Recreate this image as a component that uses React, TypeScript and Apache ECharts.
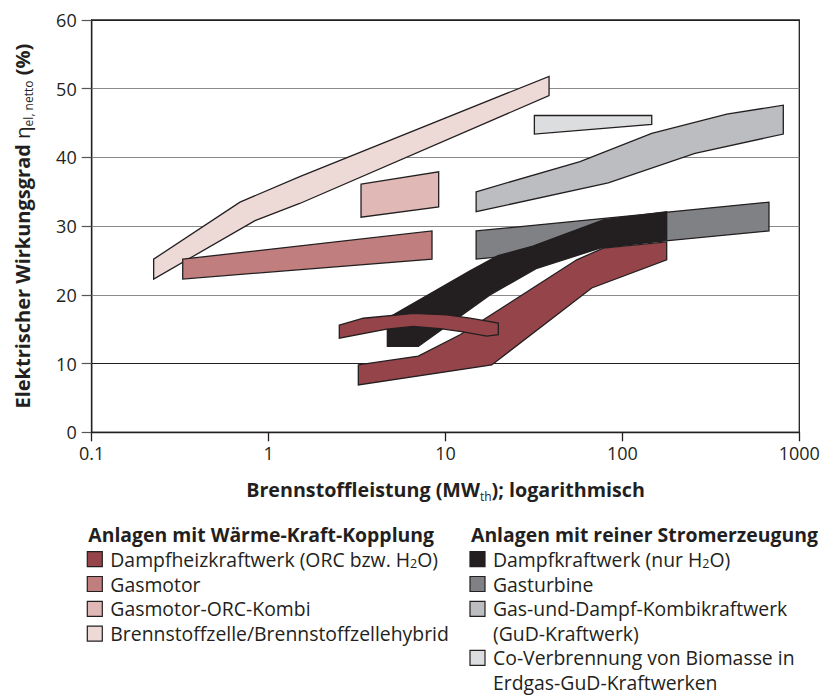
import React, { useEffect, useRef } from "react";
import * as echarts from "echarts";

// ---- tick labels ----
const xTickLabels = ["0.1", "1", "10", "100", "1000"];
const yTickValues = [0, 10, 20, 30, 40, 50, 60];

// ---- polygon outlines [Brennstoffleistung MW, Wirkungsgrad %] ----
const brennstoffzelle: [number, number][] = [
  [0.224, 25.2], [0.689, 33.5], [1.5, 37.2], [38.5, 51.8], [38.5, 49.0], [1.5, 33.3], [0.838, 30.8], [0.224, 22.3],
];
const gasmotor: [number, number][] = [
  [0.327, 25.2], [8.39, 29.3], [8.39, 25.2], [0.327, 22.3],
];
const gasmotorOrcKombi: [number, number][] = [
  [3.33, 36.1], [9.15, 37.9], [9.15, 32.8], [3.33, 31.3],
];
const coVerbrennung: [number, number][] = [
  [31.8, 46.1], [146.5, 46.1], [146.5, 44.8], [31.8, 43.4],
];
const gud: [number, number][] = [
  [14.9, 35.0], [57.6, 39.4], [146.5, 43.5], [389, 46.3], [812, 47.6],
  [812, 43.4], [257, 40.6], [83.2, 36.3], [14.9, 32.1],
];
const gasturbine: [number, number][] = [
  [14.9, 29.3], [674, 33.5], [674, 29.3], [14.9, 25.2],
];
const dampfkraftwerk: [number, number][] = [
  [4.69, 16.6], [13.76, 23.5], [19.8, 25.7], [31.2, 27.1], [78.0, 30.9], [178, 32.1],
  [178, 28.0], [74.7, 26.8], [32.5, 23.8], [17.85, 20.0], [7.02, 12.5], [4.69, 12.5],
];
const dampfheizBand: [number, number][] = [
  [3.215, 9.8], [7.02, 11.1], [12.08, 14.2], [55.2, 25.1], [78.0, 26.8], [178, 27.7],
  [178, 25.1], [67.1, 21.0], [18.25, 9.8], [3.215, 6.9],
];
const dampfheizBogen: [number, number][] = [
  [2.51, 15.6], [3.43, 16.6], [6.58, 17.3], [10.16, 17.1], [13.76, 16.6], [19.89, 15.9],
  [19.89, 14.2], [17.1, 14.0], [12.6, 14.6], [9.31, 15.1], [6.58, 15.4], [4.65, 15.0], [2.51, 13.7],
];

// ---- series (drawing order) ----
const seriesNames = [
  "Brennstoffzelle/Brennstoffzellehybrid",
  "Gasmotor",
  "Gasmotor-ORC-Kombi",
  "Co-Verbrennung von Biomasse in Erdgas-GuD-Kraftwerken",
  "Gas-und-Dampf-Kombikraftwerk (GuD-Kraftwerk)",
  "Gasturbine",
  "Dampfkraftwerk (nur H2O)",
  "Dampfheizkraftwerk (ORC bzw. H2O)",
];
const seriesColors = ["#edd9d6", "#c17e7e", "#e0b9b6", "#dcdddf", "#bcbdc0", "#808184", "#231f20", "#95454a"];
const seriesPolygons: [number, number][][][] = [
  [brennstoffzelle],
  [gasmotor],
  [gasmotorOrcKombi],
  [coVerbrennung],
  [gud],
  [gasturbine],
  [dampfkraftwerk],
  [dampfheizBand, dampfheizBogen],
];

// ---- legend ----
const legendLeftTitle = "Anlagen mit Wärme-Kraft-Kopplung";
const legendLeftItems: { lines: string[]; color: string }[] = [
  { lines: ["Dampfheizkraftwerk (ORC bzw. H{sub|2}O)"], color: "#95454a" },
  { lines: ["Gasmotor"], color: "#c17e7e" },
  { lines: ["Gasmotor-ORC-Kombi"], color: "#e0b9b6" },
  { lines: ["Brennstoffzelle/Brennstoffzellehybrid"], color: "#edd9d6" },
];
const legendRightTitle = "Anlagen mit reiner Stromerzeugung";
const legendRightItems: { lines: string[]; color: string }[] = [
  { lines: ["Dampfkraftwerk (nur H{sub|2}O)"], color: "#231f20" },
  { lines: ["Gasturbine"], color: "#808184" },
  { lines: ["Gas-und-Dampf-Kombikraftwerk", "(GuD-Kraftwerk)"], color: "#bcbdc0" },
  { lines: ["Co-Verbrennung von Biomasse in", "Erdgas-GuD-Kraftwerken"], color: "#dcdddf" },
];

const FONT = "'Open Sans', 'DejaVu Sans', sans-serif";
const INK = "#231f20";
const LEG_FS = 19.4;

function buildLegend(
  title: string,
  items: { lines: string[]; color: string }[],
  x: number,
  titleY: number,
  firstY: number,
  rowStep: number,
  lineStep: number
) {
  const els: any[] = [];
  els.push({
    type: "text",
    x: x + 1,
    y: titleY,
    style: {
      text: title,
      fontFamily: FONT,
      fontSize: LEG_FS,
      fontWeight: "bold",
      fill: INK,
      verticalAlign: "middle",
    },
  });
  let y = firstY;
  items.forEach((it) => {
    els.push({
      type: "rect",
      shape: { x: x, y: y - 7.5, width: 15, height: 15 },
      style: { fill: it.color, stroke: INK, lineWidth: 1.2 },
    });
    it.lines.forEach((ln, k) => {
      els.push({
        type: "text",
        x: x + 23,
        y: y + k * lineStep,
        style: {
          text: ln,
          fontFamily: FONT,
          fontSize: LEG_FS,
          fill: INK,
          verticalAlign: "middle",
          lineHeight: 22,
          rich: {
            sub: { fontSize: 12.5, fontFamily: FONT, fill: INK, verticalAlign: "bottom", lineHeight: 8 },
          },
        },
      });
    });
    y += rowStep + (it.lines.length - 1) * lineStep;
  });
  return els;
}

export default function App() {
  const ref = useRef<HTMLDivElement>(null);

  useEffect(() => {
    if (!ref.current) return;
    const chart = echarts.init(ref.current, null, { renderer: "svg" });

    const series: any[] = seriesNames.map((name, si) => {
      const polys = seriesPolygons[si];
      const color = seriesColors[si];
      return {
        name,
        type: "custom",
        coordinateSystem: "cartesian2d",
        silent: true,
        z: 2 + si,
        data: polys.map((p, i) => [p[0][0], p[0][1], i]),
        renderItem: (params: any, api: any) => {
          const idx = api.value(2);
          const pts = polys[idx].map((pt) => api.coord(pt));
          return {
            type: "polygon",
            shape: { points: pts },
            style: { fill: color, stroke: INK, lineWidth: 1.3 },
          };
        },
      };
    });

    const option: any = {
      animation: false,
      backgroundColor: "#ffffff",
      textStyle: { fontFamily: FONT },
      grid: {
        left: 91.7,
        right: 24.7,
        top: 20,
        bottom: 262.7,
        show: true,
        borderColor: INK,
        borderWidth: 1.3,
        backgroundColor: "transparent",
      },
      xAxis: {
        type: "log",
        logBase: 10,
        min: 0.1,
        max: 1000,
        name: "{b|Brennstoffleistung (MW}{sub|th}{b|); logarithmisch}",
        nameLocation: "middle",
        nameGap: 45,
        nameTextStyle: {
          rich: {
            b: { fontFamily: FONT, fontSize: 19.7, fontWeight: "bold", color: INK, lineHeight: 25 },
            sub: { fontFamily: FONT, fontSize: 12, color: INK, verticalAlign: "bottom", lineHeight: 9 },
          },
        },
        axisLine: { show: true, lineStyle: { color: INK, width: 1.3 } },
        axisTick: { show: true, length: 9, lineStyle: { color: INK, width: 1.3 } },
        axisLabel: {
          margin: 12,
          fontFamily: FONT,
          fontSize: 18,
          color: INK,
          formatter: (_v: number, i: number) => xTickLabels[i] ?? String(_v),
        },
        splitLine: { show: false },
      },
      yAxis: {
        type: "value",
        min: yTickValues[0],
        max: yTickValues[yTickValues.length - 1],
        interval: 10,
        name: "{b|Elektrischer Wirkungsgrad }{eta|η}{sub|el, netto}{b| (%)}",
        nameLocation: "middle",
        nameGap: 57,
        nameTextStyle: {
          rich: {
            b: { fontFamily: FONT, fontSize: 20, fontWeight: "bold", color: INK, lineHeight: 25 },
            eta: { fontFamily: FONT, fontSize: 20.5, color: INK, lineHeight: 25 },
            sub: { fontFamily: FONT, fontSize: 12, color: INK, verticalAlign: "bottom", lineHeight: 9 },
          },
        },
        axisLine: { show: true, lineStyle: { color: INK, width: 1.3 } },
        axisTick: { show: true, length: 10, lineStyle: { color: "#555", width: 1.2 } },
        axisLabel: {
          margin: 15,
          fontFamily: FONT,
          fontSize: 18,
          color: INK,
          formatter: (v: number) => String(v),
        },
        splitLine: {
          show: true,
          lineStyle: {
            color: [INK, INK, "#8a8a8a", "#8a8a8a", "#8a8a8a", "#8a8a8a", INK],
            width: 1.2,
          },
        },
      },
      series,
      graphic: [
        ...buildLegend(legendLeftTitle, legendLeftItems, 87.3, 534.2, 559.2, 24.8, 24.3),
        ...buildLegend(legendRightTitle, legendRightItems, 470, 534.2, 559.2, 24.8, 24.3),
      ],
    };

    chart.setOption(option);
    return () => chart.dispose();
  }, []);

  return (
    <div
      ref={ref}
      style={{ position: "absolute", left: 0, top: 0, width: 824, height: 695, background: "#fff" }}
    />
  );
}
